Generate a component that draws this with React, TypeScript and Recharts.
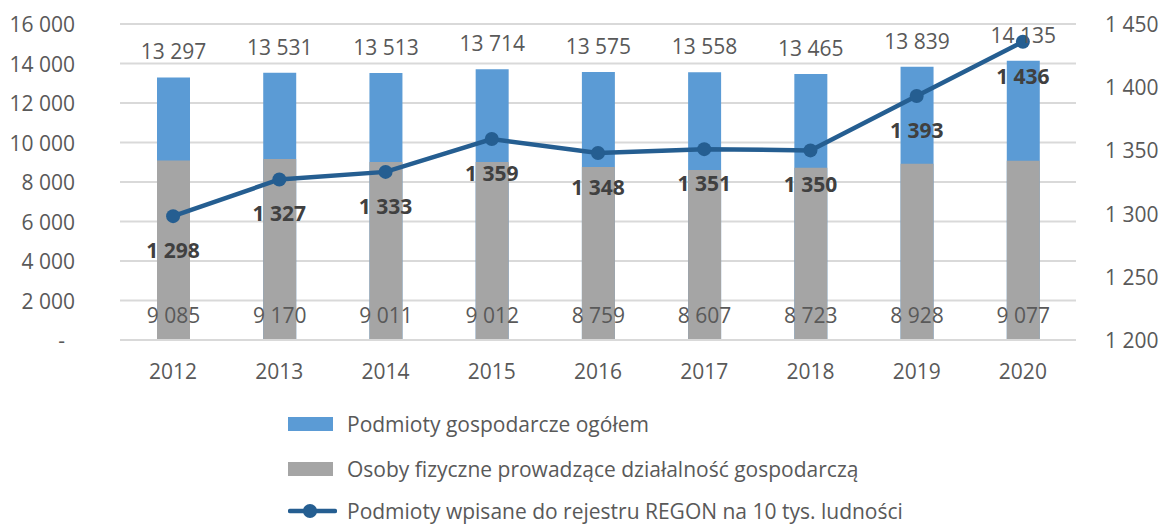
import { ComposedChart, Bar, Line, XAxis, YAxis, CartesianGrid, LabelList } from 'recharts'

const years = ['2012', '2013', '2014', '2015', '2016', '2017', '2018', '2019', '2020']
const totalEntities = [13297, 13531, 13513, 13714, 13575, 13558, 13465, 13839, 14135]
const individuals = [9085, 9170, 9011, 9012, 8759, 8607, 8723, 8928, 9077]
const regonPer10k = [1298, 1327, 1333, 1359, 1348, 1351, 1350, 1393, 1436]

const leftTicks = [0, 2000, 4000, 6000, 8000, 10000, 12000, 14000, 16000]
const rightTicks = [1200, 1250, 1300, 1350, 1400, 1450]

const legendLabels = [
  'Podmioty gospodarcze ogółem',
  'Osoby fizyczne prowadzące działalność gospodarczą',
  'Podmioty wpisane do rejestru REGON na 10 tys. ludności',
]

const data = years.map((year, i) => ({
  year,
  total: totalEntities[i],
  individuals: individuals[i],
  regon: regonPer10k[i],
}))

const FONT = '"Open Sans", sans-serif'
const FS = 21
const BLUE = '#5B9BD5'
const GREY = '#A5A5A5'
const LINE = '#255E91'
const TEXT = '#595959'

const fmt = (v: number) => String(v).replace(/\B(?=(\d{3})+(?!\d))/g, ' ')

const TotalLabel = (props: any) => {
  const { x, y, width, value } = props
  return (
    <text x={x + width / 2} y={y - 26} textAnchor="middle" dominantBaseline="central"
      fill={TEXT} fontSize={FS} fontFamily={FONT}>
      {fmt(value)}
    </text>
  )
}

const IndividualsLabel = (props: any) => {
  const { x, y, width, height, value } = props
  return (
    <text x={x + width / 2} y={y + height - 25} textAnchor="middle" dominantBaseline="central"
      fill={TEXT} fontSize={FS} fontFamily={FONT}>
      {fmt(value)}
    </text>
  )
}

const RegonLabel = (props: any) => {
  const { x, y, value } = props
  return (
    <text x={x} y={y + 34} textAnchor="middle" dominantBaseline="central"
      fill="#404040" fontSize={FS} fontWeight="bold" fontFamily={FONT}>
      {fmt(value)}
    </text>
  )
}

const LeftTick = (props: any) => {
  const { x, y, payload } = props
  const zero = payload.value === 0
  return (
    <text x={zero ? x - 10 : x} y={y} textAnchor="end" dominantBaseline="central"
      fill={TEXT} fontSize={FS} fontFamily={FONT}>
      {zero ? '-' : fmt(payload.value)}
    </text>
  )
}

const RightTick = (props: any) => {
  const { x, y, payload } = props
  return (
    <text x={x} y={y} textAnchor="start" dominantBaseline="central"
      fill={TEXT} fontSize={FS} fontFamily={FONT}>
      {fmt(payload.value)}
    </text>
  )
}

function ChartLegend() {
  const row = (top: number): React.CSSProperties => ({
    position: 'absolute', left: 288, top: top - 14, height: 28,
    display: 'flex', alignItems: 'center', whiteSpace: 'nowrap',
  })
  const label: React.CSSProperties = { marginLeft: 14, fontSize: FS, color: TEXT, fontFamily: FONT }
  return (
    <>
      <div style={row(424)}>
        <div style={{ width: 45, height: 14, background: BLUE }} />
        <span style={label}>{legendLabels[0]}</span>
      </div>
      <div style={row(469)}>
        <div style={{ width: 45, height: 14, background: GREY }} />
        <span style={label}>{legendLabels[1]}</span>
      </div>
      <div style={row(511)}>
        <svg width={49} height={16} style={{ display: 'block' }}>
          <line x1={2} y1={8} x2={47} y2={8} stroke={LINE} strokeWidth={4.5} strokeLinecap="round" />
          <circle cx={22} cy={8} r={7} fill={LINE} />
        </svg>
        <span style={{ ...label, marginLeft: 10 }}>{legendLabels[2]}</span>
      </div>
    </>
  )
}

export default function App() {
  return (
    <div style={{ position: 'absolute', left: 0, top: 0, width: 1161, height: 524, overflow: 'hidden', background: '#fff' }}>
      <ComposedChart width={1161} height={524} data={data}
        margin={{ top: 24, right: 0, left: 0, bottom: 144 }}
        barSize={33} barGap={-33}>
        <CartesianGrid yAxisId="left" vertical={false} stroke="#D9D9D9" strokeWidth={2} />
        <XAxis dataKey="year" axisLine={{ stroke: '#D9D9D9', strokeWidth: 2 }} tickLine={false}
          height={40} tickMargin={18}
          tick={{ fill: TEXT, fontSize: FS, fontFamily: FONT }} />
        <YAxis yAxisId="left" domain={[0, 16000]} ticks={leftTicks} width={120}
          axisLine={false} tickLine={false} tickMargin={39} tick={<LeftTick />} />
        <YAxis yAxisId="right" orientation="right" domain={[1200, 1450]} ticks={rightTicks} width={85}
          axisLine={false} tickLine={false} tickMargin={23} tick={<RightTick />} />
        <Bar yAxisId="left" dataKey="total" fill={BLUE} isAnimationActive={false}>
          <LabelList dataKey="total" content={<TotalLabel />} />
        </Bar>
        <Bar yAxisId="left" dataKey="individuals" fill={GREY} isAnimationActive={false}>
          <LabelList dataKey="individuals" content={<IndividualsLabel />} />
        </Bar>
        <Line yAxisId="right" dataKey="regon" type="linear" stroke={LINE} strokeWidth={4.5}
          dot={{ r: 7, fill: LINE, stroke: LINE, strokeWidth: 0 }} activeDot={false}
          isAnimationActive={false}>
          <LabelList dataKey="regon" content={<RegonLabel />} />
        </Line>
      </ComposedChart>
      <ChartLegend />
    </div>
  )
}
